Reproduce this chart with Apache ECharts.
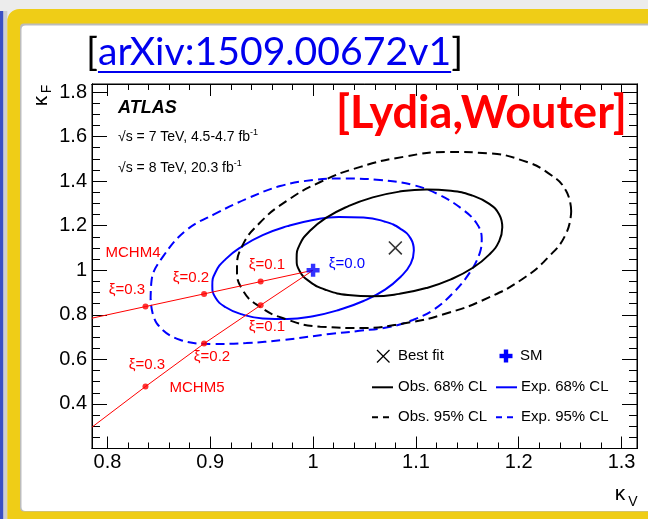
<!DOCTYPE html>
<html><head><meta charset="utf-8">
<script src="https://cdn.jsdelivr.net/npm/echarts@6/dist/echarts.min.js"></script>
<style>html,body{margin:0;padding:0;background:#fff}#c{width:648px;height:519px}</style>
</head><body><div id="c"></div>
<script>
// ---- tick labels ----
const xTickValues = [0.8, 0.9, 1.0, 1.1, 1.2, 1.3];
const xTickLabels = ['0.8', '0.9', '1', '1.1', '1.2', '1.3'];
const yTickValues = [0.4, 0.6, 0.8, 1.0, 1.2, 1.4, 1.6, 1.8];
const yTickLabels = ['0.4', '0.6', '0.8', '1', '1.2', '1.4', '1.6', '1.8'];

// ---- data (kappa_V, kappa_F) ----
const bestFit = [[1.08, 1.10]];
const smPoint = [[1.0, 1.0]];
const obs68 = [[1.184,1.193],[1.181,1.250],[1.171,1.299],[1.155,1.335],[1.134,1.357],[1.110,1.363],[1.084,1.353],[1.058,1.327],[1.034,1.287],[1.013,1.236],[0.997,1.177],[0.987,1.115],[0.984,1.053],[0.987,0.996],[0.997,0.948],[1.013,0.911],[1.034,0.889],[1.058,0.883],[1.084,0.894],[1.110,0.920],[1.134,0.959],[1.155,1.010],[1.171,1.069],[1.181,1.131],[1.184,1.193]];
const obs95 = [[1.251,1.265],[1.246,1.357],[1.229,1.435],[1.204,1.492],[1.170,1.525],[1.131,1.531],[1.089,1.510],[1.046,1.464],[1.007,1.396],[0.974,1.310],[0.948,1.212],[0.931,1.108],[0.926,1.007],[0.931,0.915],[0.948,0.837],[0.974,0.780],[1.007,0.747],[1.046,0.741],[1.089,0.762],[1.131,0.808],[1.170,0.876],[1.204,0.962],[1.229,1.060],[1.246,1.164],[1.251,1.265]];
const exp68 = [[1.098,1.089],[1.095,1.142],[1.085,1.186],[1.070,1.218],[1.049,1.237],[1.025,1.239],[1.000,1.226],[0.975,1.198],[0.951,1.158],[0.931,1.107],[0.915,1.050],[0.905,0.990],[0.902,0.931],[0.905,0.878],[0.915,0.834],[0.931,0.802],[0.951,0.784],[0.975,0.781],[1.000,0.794],[1.025,0.822],[1.049,0.862],[1.070,0.913],[1.085,0.970],[1.095,1.030],[1.098,1.089]];
const exp95 = [[0.842,0.867],[0.843,0.957],[0.854,1.061],[0.877,1.181],[0.906,1.256],[0.935,1.320],[0.968,1.378],[1.000,1.405],[1.032,1.412],[1.065,1.405],[1.097,1.383],[1.123,1.338],[1.146,1.271],[1.159,1.211],[1.164,1.145],[1.162,1.076],[1.152,0.987],[1.136,0.897],[1.117,0.822],[1.097,0.777],[1.075,0.746],[1.045,0.728],[1.016,0.714],[0.971,0.687],[0.935,0.673],[0.903,0.669],[0.871,0.687],[0.848,0.762],[0.842,0.867]];
const mchm4Line = [[1.0,1.0],[0.949,0.949],[0.894,0.894],[0.837,0.837],[0.785,0.785]];
const mchm4Points = [[0.949,0.949],[0.894,0.894],[0.837,0.837]];
const mchm5Line = [[1.0,1.0],[0.949,0.843],[0.894,0.671],[0.837,0.478],[0.785,0.296]];
const mchm5Points = [[0.949,0.843],[0.894,0.671],[0.837,0.478]];

// minor tick positions
const xMinor = []; for (let i = 79; i <= 131; i++) if (i % 2 === 0 && i % 10 !== 0) xMinor.push(i / 100);
const yMinor = []; for (let i = 20; i <= 183; i += 5) if (i % 20 !== 0) yMinor.push(i / 100);

const FONT = "'Liberation Sans', Arial, Helvetica, sans-serif";
const XMIN = 0.785, XMAX = 1.315, YMIN = 0.2, YMAX = 1.836;

function lab(values, labels) {
  return v => { const i = values.findIndex(t => Math.abs(t - v) < 1e-6); return i >= 0 ? labels[i] : ''; };
}
function xAxisDef(pos, ticks, len, showLabel) {
  return { type: 'value', min: XMIN, max: XMAX, position: pos, gridIndex: 0,
    axisLine: { show: true, onZero: false, lineStyle: { color: '#000', width: 1 } },
    splitLine: { show: false },
    axisTick: { show: true, inside: true, length: len, customValues: ticks, lineStyle: { color: '#000', width: 1 } },
    axisLabel: showLabel ? { show: true, customValues: xTickValues, formatter: lab(xTickValues, xTickLabels),
      fontFamily: FONT, fontSize: 20, color: '#000', margin: 4 } : { show: false } };
}
function yAxisDef(pos, ticks, len, showLabel) {
  return { type: 'value', min: YMIN, max: YMAX, position: pos, gridIndex: 0,
    axisLine: { show: true, onZero: false, lineStyle: { color: '#000', width: 1 } },
    splitLine: { show: false },
    axisTick: { show: true, inside: true, length: len, customValues: ticks, lineStyle: { color: '#000', width: 1 } },
    axisLabel: showLabel ? { show: true, customValues: yTickValues, formatter: lab(yTickValues, yTickLabels),
      fontFamily: FONT, fontSize: 20, color: '#000', margin: 5 } : { show: false } };
}

const X_PATH = 'path://M0,0.8L0.8,0L10,9.2L9.2,10Z M9.2,0L10,0.8L0.8,10L0,9.2Z';
const PLUS_PATH = 'path://M3.3,0H6.7V3.3H10V6.7H6.7V10H3.3V6.7H0V3.3H3.3Z';

// title font fitting
const mctx = document.createElement('canvas').getContext('2d');
function fit(text, font, target) { mctx.font = font.replace('SIZE', '100px'); return 100 * target / mctx.measureText(text).width; }
function w(text, font) { mctx.font = font; return mctx.measureText(text).width; }
const TFAM = "Lato, 'Open Sans', sans-serif";
const titleSize = fit('[arXiv:1509.00672v1]', 'SIZE ' + TFAM, 376);
const titleFont = titleSize.toFixed(2) + 'px ' + TFAM;
const ulStart = 86 + w('[', titleFont);
const ulEnd = ulStart + w('arXiv:1509.00672v1', titleFont);
const lydSize = fit('[Lydia,Wouter]', 'bold SIZE ' + TFAM, 291);

function txt(x, y, text, size, color, extra) {
  return Object.assign({ type: 'text', x: x, y: y, z: 100,
    style: { text: text, fill: color, fontFamily: FONT, fontSize: size, align: 'center', verticalAlign: 'middle' } }, extra || {});
}
function ltxt(x, y, text) {
  return { type: 'text', x: x, y: y, z: 100, style: { text: text, fill: '#000', fontFamily: FONT, fontSize: 15, align: 'left', verticalAlign: 'middle' } };
}
function lline(x1, x2, y, color, dash) {
  return { type: 'line', z: 100, shape: { x1: x1, y1: y, x2: x2, y2: y }, style: { stroke: color, lineWidth: 2, lineDash: dash || null } };
}

const graphics = [
  // slide decoration
  { type: 'rect', z: -100, shape: { x: 0, y: 0, width: 648, height: 519 }, style: { fill: '#ececec' } },
  { type: 'rect', z: -99, shape: { x: 0, y: 11, width: 3.5, height: 509 }, style: { fill: '#3b4fc4' } },
  { type: 'rect', z: -99, shape: { x: 3.5, y: 11, width: 3.8, height: 509 }, style: { fill: '#cfcfcf' } },
  { type: 'rect', z: -98, shape: { x: 7.3, y: 9, width: 720, height: 540, r: 12 }, style: { fill: '#efcd17' } },
  { type: 'rect', z: -97, shape: { x: 20, y: 23.5, width: 700, height: 488, r: 4 }, style: { fill: '#bcbcbc' } },
  { type: 'rect', z: -96, shape: { x: 21.5, y: 25.5, width: 700, height: 485.5, r: 4 }, style: { fill: '#ffffff' } },
  // title
  { type: 'text', x: 86, y: 52, z: 100, style: { text: '{b|[}{l|arXiv:1509.00672v1}{b|]}', align: 'left', verticalAlign: 'middle',
      rich: { b: { fill: '#000', font: titleFont }, l: { fill: '#0000ee', font: titleFont } } } },
  { type: 'line', z: 100, shape: { x1: ulStart, y1: 72, x2: ulEnd, y2: 72 }, style: { stroke: '#0000ee', lineWidth: 2 } },
  { type: 'text', x: 336, y: 113, z: 100, style: { text: '[Lydia,Wouter]', fill: '#ff0000', font: 'bold ' + lydSize.toFixed(2) + 'px ' + TFAM, align: 'left', verticalAlign: 'middle' } },
  // axis titles
  txt(620, 494, 'κ', 21, '#000'),
  txt(633, 502, 'V', 14, '#000'),
  txt(41, 101, 'κ', 21, '#000', { rotation: Math.PI / 2 }),
  txt(47, 89, 'F', 14, '#000', { rotation: Math.PI / 2 }),
  // ATLAS block
  { type: 'text', x: 118, y: 108, z: 100, style: { text: 'ATLAS', fill: '#000', font: 'italic bold 18px ' + FONT, align: 'left', verticalAlign: 'middle' } },
  { type: 'text', x: 118, y: 137, z: 100, style: { text: '{a|√s = 7 TeV, 4.5-4.7 fb}{s|-1}', align: 'left', verticalAlign: 'middle',
      rich: { a: { fill: '#000', fontFamily: FONT, fontSize: 14, lineHeight: 18 }, s: { fill: '#000', fontFamily: FONT, fontSize: 9, lineHeight: 18, verticalAlign: 'top' } } } },
  { type: 'text', x: 118, y: 168, z: 100, style: { text: '{a|√s = 8 TeV, 20.3 fb}{s|-1}', align: 'left', verticalAlign: 'middle',
      rich: { a: { fill: '#000', fontFamily: FONT, fontSize: 14, lineHeight: 18 }, s: { fill: '#000', fontFamily: FONT, fontSize: 9, lineHeight: 18, verticalAlign: 'top' } } } },
  // model annotations
  txt(133, 253, 'MCHM4', 15, '#ff0000'),
  txt(127, 290, 'ξ=0.3', 15, '#ff0000'),
  txt(191, 278, 'ξ=0.2', 15, '#ff0000'),
  txt(267, 265, 'ξ=0.1', 15, '#ff0000'),
  txt(267, 327, 'ξ=0.1', 15, '#ff0000'),
  txt(212, 357, 'ξ=0.2', 15, '#ff0000'),
  txt(147, 365, 'ξ=0.3', 15, '#ff0000'),
  txt(197, 388, 'MCHM5', 15, '#ff0000'),
  txt(347, 264, 'ξ=0.0', 15, '#0000ff'),
  // legend (drawn manually, ROOT style)
  { type: 'group', z: 100, children: [
    { type: 'line', shape: { x1: 377, y1: 350, x2: 389.5, y2: 362.5 }, style: { stroke: '#000', lineWidth: 1.2 } },
    { type: 'line', shape: { x1: 389.5, y1: 350, x2: 377, y2: 362.5 }, style: { stroke: '#000', lineWidth: 1.2 } },
    { type: 'rect', shape: { x: 499.5, y: 353.8, width: 13, height: 4.4 }, style: { fill: '#0000ff' } },
    { type: 'rect', shape: { x: 503.8, y: 349.5, width: 4.4, height: 13 }, style: { fill: '#0000ff' } }
  ] },
  ltxt(398, 356, 'Best fit'),
  ltxt(520, 356, 'SM'),
  lline(372, 393, 387.3, '#000'),
  ltxt(398, 387.3, 'Obs. 68% CL'),
  lline(496, 517, 387.3, '#0000ff'),
  ltxt(521, 387.3, 'Exp. 68% CL'),
  lline(372, 393, 417.3, '#000', [6, 5]),
  ltxt(398, 417.3, 'Obs. 95% CL'),
  lline(496, 517, 417.3, '#0000ff', [6, 5]),
  ltxt(521, 417.3, 'Exp. 95% CL')
];

const chart = echarts.init(document.getElementById('c'), null, { renderer: 'canvas' });
chart.setOption({
  animation: false,
  backgroundColor: '#ffffff',
  grid: { left: 92, top: 84, width: 545, height: 364.5, show: true, borderColor: '#000', borderWidth: 1, backgroundColor: 'transparent', containLabel: false },
  xAxis: [ xAxisDef('bottom', xTickValues, 12, true), xAxisDef('bottom', xMinor, 6, false),
           xAxisDef('top', xTickValues, 12, false), xAxisDef('top', xMinor, 6, false) ],
  yAxis: [ yAxisDef('left', yTickValues, 15, true), yAxisDef('left', yMinor, 8, false),
           yAxisDef('right', yTickValues, 15, false), yAxisDef('right', yMinor, 8, false) ],
  graphic: graphics,
  series: [
    { name: 'Exp. 95% CL', type: 'line', data: exp95, symbol: 'none', smooth: 0.4, z: 2,
      lineStyle: { color: '#0000ff', width: 2, type: [9, 5] }, itemStyle: { color: '#0000ff' } },
    { name: 'Exp. 68% CL', type: 'line', data: exp68, symbol: 'none', smooth: 0.5, z: 2,
      lineStyle: { color: '#0000ff', width: 2 }, itemStyle: { color: '#0000ff' } },
    { name: 'Obs. 95% CL', type: 'line', data: obs95, symbol: 'none', smooth: 0.5, z: 3,
      lineStyle: { color: '#000000', width: 2, type: [9, 5] }, itemStyle: { color: '#000000' } },
    { name: 'Obs. 68% CL', type: 'line', data: obs68, symbol: 'none', smooth: 0.5, z: 3,
      lineStyle: { color: '#000000', width: 2 }, itemStyle: { color: '#000000' } },
    { name: 'MCHM4', type: 'line', data: mchm4Line, symbol: 'none', z: 4, lineStyle: { color: '#ff0000', width: 1 } },
    { name: 'MCHM5', type: 'line', data: mchm5Line, symbol: 'none', z: 4, lineStyle: { color: '#ff0000', width: 1 } },
    { name: 'MCHM4 pts', type: 'scatter', data: mchm4Points, symbol: 'circle', symbolSize: 6, z: 5, itemStyle: { color: '#ff0000' } },
    { name: 'MCHM5 pts', type: 'scatter', data: mchm5Points, symbol: 'circle', symbolSize: 6, z: 5, itemStyle: { color: '#ff0000' } },
    { name: 'Best fit', type: 'scatter', data: bestFit, symbol: X_PATH, symbolSize: 14, symbolKeepAspect: true, z: 6, itemStyle: { color: '#000000' } },
    { name: 'SM', type: 'scatter', data: smPoint, symbol: PLUS_PATH, symbolSize: 13, symbolKeepAspect: true, z: 7, itemStyle: { color: '#0000ff' } }
  ]
});
</script></body></html>
